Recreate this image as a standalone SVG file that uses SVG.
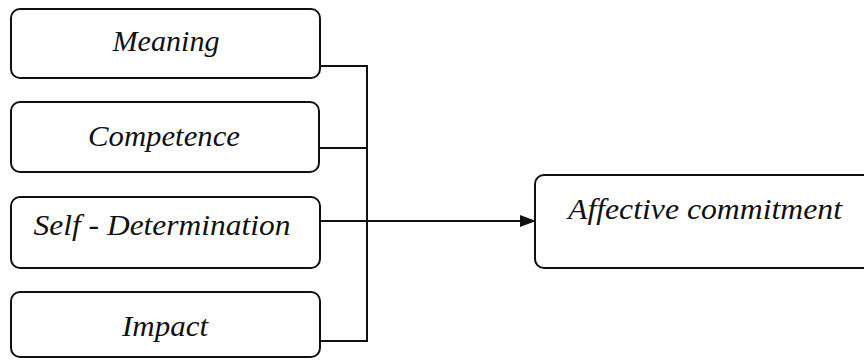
<svg xmlns="http://www.w3.org/2000/svg" width="864" height="362" viewBox="0 0 864 362">
  <defs>
    <marker id="arrow" markerWidth="16" markerHeight="12" refX="15" refY="6" orient="auto" markerUnits="userSpaceOnUse">
      <path d="M0,0 L16,6 L0,12 Z" fill="#111"/>
    </marker>
  </defs>
  <style>
    .box { fill: none; stroke: #111; stroke-width: 2; }
    .lbl { font-family: "Liberation Serif", "Times New Roman", serif; font-style: italic; font-size: 30px; fill: #111; text-anchor: middle; }
    .conn { fill: none; stroke: #111; stroke-width: 2; }
  </style>
  <rect width="864" height="362" fill="#ffffff"/>
  <g id="connectors">
    <polyline class="conn" points="320,66 367,66 367,341 320,341"/>
    <line class="conn" x1="319" y1="148" x2="367" y2="148"/>
    <line class="conn" x1="320" y1="221" x2="535" y2="221" marker-end="url(#arrow)"/>
  </g>
  <g id="meaning">
    <rect class="box" x="11" y="9" width="309" height="69" rx="9"/>
    <text class="lbl" x="166" y="51" textLength="107" lengthAdjust="spacingAndGlyphs">Meaning</text>
  </g>
  <g id="competence">
    <rect class="box" x="11" y="102" width="308" height="70" rx="9"/>
    <text class="lbl" x="164" y="146" textLength="152" lengthAdjust="spacingAndGlyphs">Competence</text>
  </g>
  <g id="self-determination">
    <rect class="box" x="11" y="197" width="309" height="71" rx="9"/>
    <text class="lbl" x="162" y="235" textLength="257" lengthAdjust="spacingAndGlyphs">Self - Determination</text>
  </g>
  <g id="impact">
    <rect class="box" x="11" y="292" width="309" height="65" rx="9"/>
    <text class="lbl" x="165" y="336" textLength="86" lengthAdjust="spacingAndGlyphs">Impact</text>
  </g>
  <g id="affective-commitment">
    <rect class="box" x="535" y="175" width="340" height="93" rx="9"/>
    <text class="lbl" x="705" y="219" textLength="274" lengthAdjust="spacingAndGlyphs">Affective commitment</text>
  </g>
</svg>
